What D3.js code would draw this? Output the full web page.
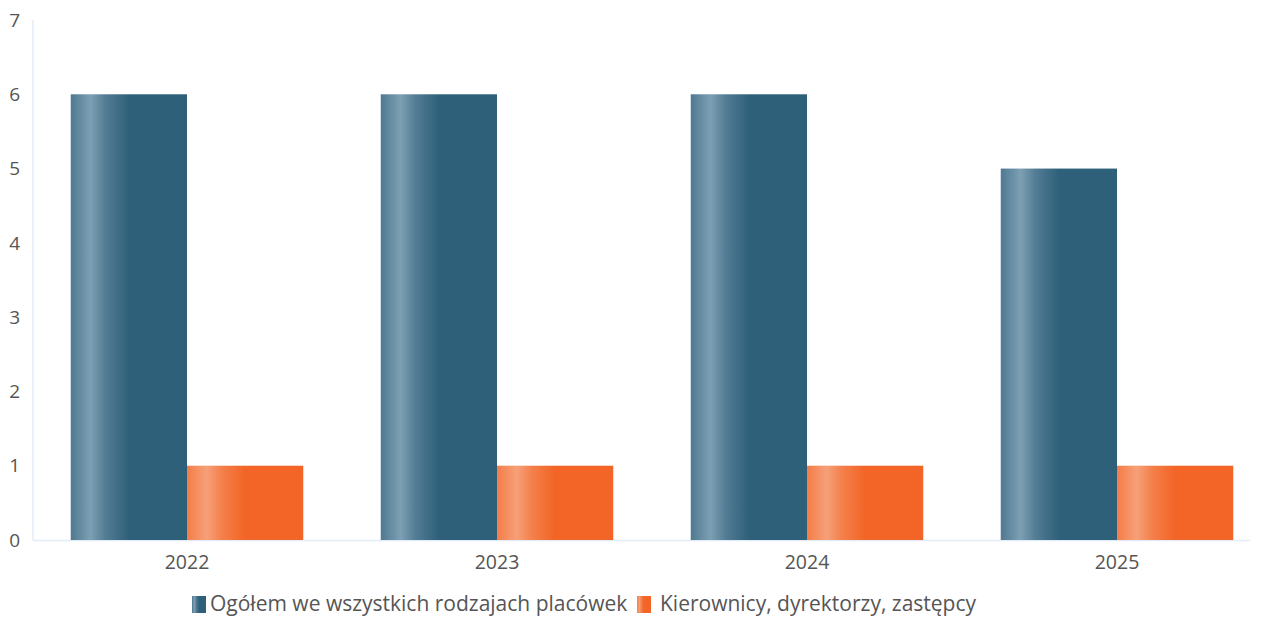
<!DOCTYPE html>
<html>
<head>
<meta charset="utf-8">
<script src="https://cdn.jsdelivr.net/npm/d3@7"></script>
<style>
  body { margin: 0; background: #fff; }
  svg text { font-family: "Open Sans", "Noto Sans", sans-serif; }
</style>
</head>
<body>
<svg id="chart" width="1263" height="620"></svg>
<script>
// data
var years = ["2022", "2023", "2024", "2025"];
var seriesNames = ["Ogółem we wszystkich rodzajach placówek", "Kierownicy, dyrektorzy, zastępcy"];
var ogolem = [6, 6, 6, 5];
var kierownicy = [1, 1, 1, 1];
var yTicks = [0, 1, 2, 3, 4, 5, 6, 7];

var svg = d3.select("#chart");
var colors = ["#2f607a", "#f26526"];
var lights = ["#7d9fb3", "#f6a079"];

// soft gradients, light stripe near the left edge
var defs = svg.append("defs");
colors.forEach(function(c, i) {
  var g = defs.append("linearGradient")
    .attr("id", "grad" + i)
    .attr("x1", "0%").attr("x2", "100%")
    .attr("y1", "0%").attr("y2", "0%");
  g.append("stop").attr("offset", "0%").attr("stop-color", d3.interpolateRgb(c, lights[i])(0.4));
  g.append("stop").attr("offset", "17%").attr("stop-color", lights[i]);
  g.append("stop").attr("offset", "30%").attr("stop-color", d3.interpolateRgb(c, lights[i])(0.45));
  g.append("stop").attr("offset", "50%").attr("stop-color", c);
  g.append("stop").attr("offset", "100%").attr("stop-color", c);
});

var x = d3.scaleBand()
  .domain(years)
  .range([32, 1272])
  .paddingInner(0.25)
  .paddingOuter(0.125);

var xSub = d3.scaleBand()
  .domain([0, 1])
  .range([0, x.bandwidth()]);

var y = d3.scaleLinear()
  .domain([0, 7])
  .range([540, 20]);

// axis lines
svg.append("line")
  .attr("x1", 33).attr("x2", 33)
  .attr("y1", y(7)).attr("y2", y(0))
  .attr("stroke", "#e3ecf6").attr("stroke-width", 1.5);
svg.append("line")
  .attr("x1", 33).attr("x2", 1250)
  .attr("y1", y(0) + 0.5).attr("y2", y(0) + 0.5)
  .attr("stroke", "#e3ecf6").attr("stroke-width", 1.5);

// y tick labels
svg.append("g").selectAll("text")
  .data(yTicks)
  .enter()
  .append("text")
  .attr("x", 20)
  .attr("y", function(d) { return y(d); })
  .attr("dy", "0.35em")
  .attr("text-anchor", "end")
  .attr("fill", "#555")
  .style("font-size", "19px")
  .text(function(d) { return d; });

// x tick labels
svg.append("g").selectAll("text")
  .data(years)
  .enter()
  .append("text")
  .attr("x", function(d) { return x(d) + x.bandwidth() / 2; })
  .attr("y", 569)
  .attr("text-anchor", "middle")
  .attr("fill", "#555")
  .style("font-size", "19.5px")
  .text(function(d) { return d; });

// bars
var series = [ogolem, kierownicy];
series.forEach(function(vals, s) {
  svg.append("g").selectAll("rect")
    .data(vals)
    .enter()
    .append("rect")
    .attr("x", function(d, i) { return x(years[i]) + xSub(s); })
    .attr("width", xSub.bandwidth())
    .attr("y", function(d) { return y(d); })
    .attr("height", function(d) { return y(0) - y(d); })
    .attr("fill", "url(#grad" + s + ")");
});

// legend
var legend = svg.append("g").attr("transform", "translate(192, 596)");
legend.append("rect").attr("x", 0).attr("y", 0).attr("width", 14).attr("height", 17).attr("fill", "url(#grad0)");
legend.append("text").attr("x", 18).attr("y", 15).attr("fill", "#555").style("font-size", "21px").text(seriesNames[0]);
legend.append("rect").attr("x", 445).attr("y", 0).attr("width", 14).attr("height", 17).attr("fill", "url(#grad1)");
legend.append("text").attr("x", 468).attr("y", 15).attr("fill", "#555").style("font-size", "21px").text(seriesNames[1]);
</script>
</body>
</html>
